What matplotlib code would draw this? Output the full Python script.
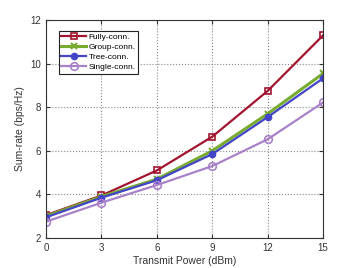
import matplotlib
matplotlib.use("Agg")
import matplotlib.pyplot as plt

power = [0, 3, 6, 9, 12, 15]
fully = [3.05, 3.95, 5.1, 6.65, 8.75, 11.3]
group = [3.0, 3.9, 4.7, 6.0, 7.7, 9.55]
tree = [2.95, 3.85, 4.65, 5.85, 7.55, 9.33]
single = [2.75, 3.62, 4.43, 5.3, 6.53, 8.22]
labels = ["Fully-conn.", "Group-conn.", "Tree-conn.", "Single-conn."]

plt.rcParams['font.family'] = ['Liberation Sans', 'DejaVu Sans']
fig = plt.figure(figsize=(3.57, 2.68), dpi=100)
ax = fig.add_axes([0.129, 0.112, 0.776, 0.813])

ax.plot(power, fully, color='#A2142F', marker='s', ms=4.5, mfc='none', mew=1.2, lw=1.6, label=labels[0])
ax.plot(power, group, color='#77AC30', marker='x', ms=4.5, mew=1.5, lw=2.2, label=labels[1])
ax.plot(power, tree, color='#4444C8', marker='o', ms=4.5, lw=1.6, label=labels[2])
ax.plot(power, single, color='#A881C8', marker='o', ms=5.5, mfc='none', mew=1.2, lw=1.6, label=labels[3])

ax.set_xlim(0, 15)
ax.set_ylim(2, 12)
ax.set_xticks(power)
ax.set_yticks([2, 4, 6, 8, 10, 12])
ax.grid(True, linestyle=':', color='#888888', linewidth=0.8)
ax.tick_params(labelsize=7, direction='in', length=3, colors='#333333', top=True, right=True)
for s in ax.spines.values():
    s.set_color('#333333')
ax.set_xlabel("Transmit Power (dBm)", fontsize=7.5, color='#333333', labelpad=2)
ax.set_ylabel("Sum-rate (bps/Hz)", fontsize=7.5, color='#333333', labelpad=4)
leg = ax.legend(loc='upper left', bbox_to_anchor=(0.045, 0.95), fontsize=6, frameon=True,
                fancybox=False, edgecolor='#222222', handlelength=3.0, borderpad=0.3,
                labelspacing=0.25, handletextpad=0.3, borderaxespad=0, framealpha=1)
leg.get_frame().set_linewidth(0.8)
fig.savefig("out.png", dpi=100)
